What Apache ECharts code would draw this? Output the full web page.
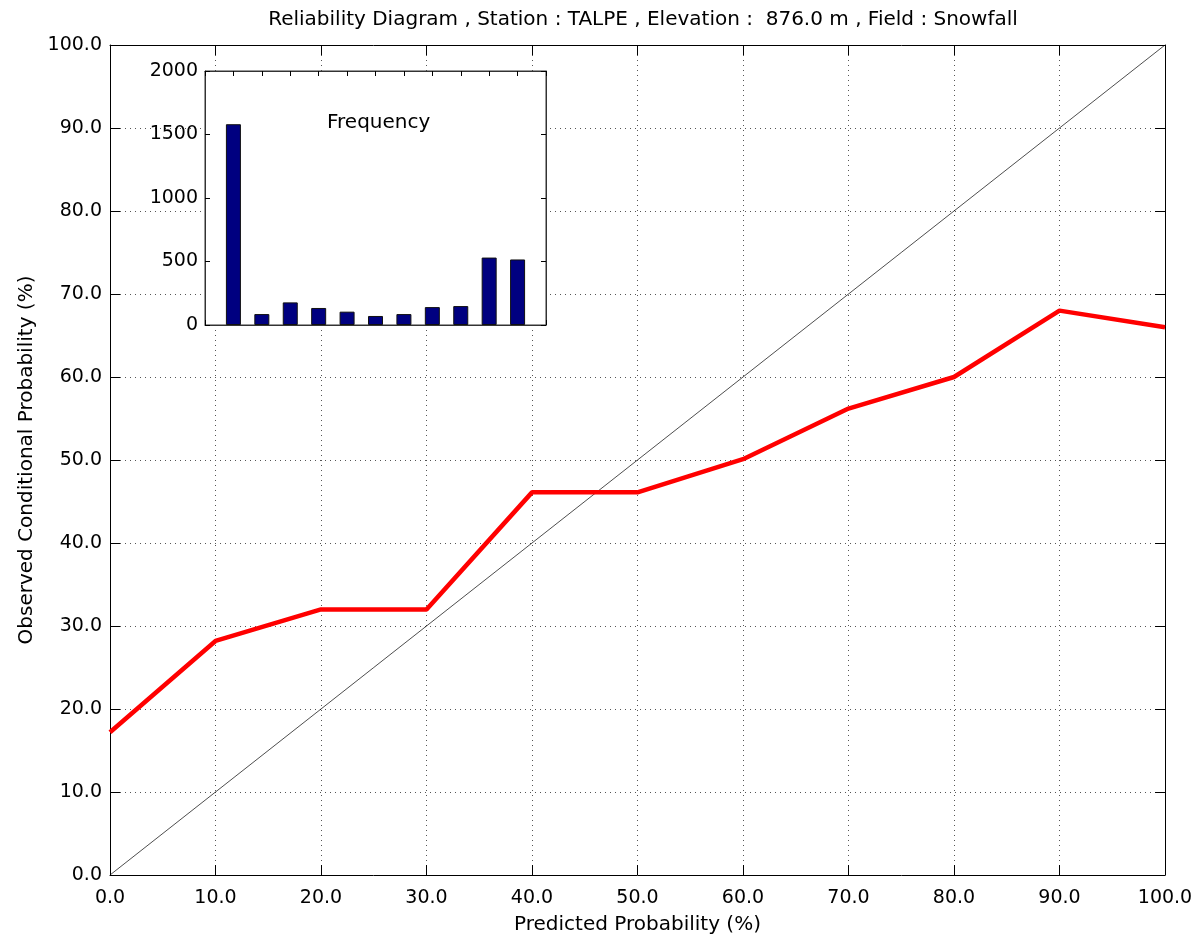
<!DOCTYPE html>
<html><head><meta charset="utf-8">
<script src="https://cdn.jsdelivr.net/npm/echarts@6/dist/echarts.min.js"></script>
<style>html,body{margin:0;padding:0;background:#fff}#c{width:1197px;height:940px}</style>
</head><body><div id="c"></div>
<script>
const titleText = 'Reliability Diagram , Station : TALPE , Elevation :  876.0 m , Field : Snowfall';
const predicted = [0, 10, 20, 30, 40, 50, 60, 70, 80, 90, 100];
const observed = [17.2, 28.2, 32.0, 32.0, 46.1, 46.1, 50.1, 56.2, 60.0, 68.0, 66.0];
const diagonal = [[0, 0], [100, 100]];
const freqBins = [0, 1, 2, 3, 4, 5, 6, 7, 8, 9, 10];
const freqCounts = [1581, 86, 178, 134, 105, 71, 86, 141, 149, 531, 516];

const FONT = 'DejaVu Sans';
const FS = 19;
const FS_NAME = 20;
const txt = {color: '#000', fontFamily: FONT, fontSize: FS};
const nameTxt = {color: '#000', fontFamily: FONT, fontSize: FS_NAME};
const gridLine = {show: true, lineStyle: {color: '#555', type: [1, 4], width: 1}};
const axLine = {show: true, onZero: false, lineStyle: {color: '#000', width: 1}};
const inTick = {show: true, inside: true, length: 10, lineStyle: {color: '#000'}};
const inTickSmall = {show: true, inside: true, length: 5, lineStyle: {color: '#000'}};
const insetLine = {show: true, onZero: false, lineStyle: {color: '#333', width: 1}};

const chart = echarts.init(document.getElementById('c'), null, {renderer: 'canvas'});
chart.setOption({
  backgroundColor: '#fff',
  animation: false,
  title: [
    {text: titleText, left: 638, textAlign: 'center', top: 5, textStyle: {fontFamily: FONT, fontSize: FS_NAME, fontWeight: 'normal', color: '#000'}},
    {text: 'Frequency', left: 322, top: 108, z: 10, textStyle: {fontFamily: FONT, fontSize: FS_NAME, fontWeight: 'normal', color: '#000'}}
  ],
  grid: [
    {left: 110, top: 45, right: 32, bottom: 63, show: false},
    {left: 205, top: 71, width: 341, height: 254, show: true, backgroundColor: '#fff', borderColor: '#333', borderWidth: 1, z: 5}
  ],
  xAxis: [
    {type: 'value', gridIndex: 0, min: 0, max: 100, interval: 10, position: 'bottom',
     name: 'Predicted Probability (%)', nameLocation: 'middle', nameGap: 40, nameTextStyle: nameTxt,
     axisLine: axLine, axisTick: inTick, splitLine: gridLine,
     axisLabel: Object.assign({margin: 14, formatter: v => v.toFixed(1)}, txt)},
    {type: 'value', gridIndex: 0, min: 0, max: 100, interval: 10, position: 'top',
     axisLine: axLine, axisTick: inTick, splitLine: {show: false}, axisLabel: {show: false}},
    {type: 'value', gridIndex: 1, min: -1, max: 11, interval: 1, position: 'bottom', z: 6,
     axisLine: insetLine, axisTick: inTickSmall, splitLine: {show: false}, axisLabel: {show: false}},
    {type: 'value', gridIndex: 1, min: -1, max: 11, interval: 1, position: 'top', z: 6,
     axisLine: insetLine, axisTick: inTickSmall, splitLine: {show: false}, axisLabel: {show: false}}
  ],
  yAxis: [
    {type: 'value', gridIndex: 0, min: 0, max: 100, interval: 10, position: 'left',
     name: 'Observed Conditional Probability (%)', nameLocation: 'middle', nameGap: 73, nameTextStyle: nameTxt,
     axisLine: axLine, axisTick: inTick, splitLine: gridLine,
     axisLabel: Object.assign({margin: 8, formatter: v => v.toFixed(1)}, txt)},
    {type: 'value', gridIndex: 0, min: 0, max: 100, interval: 10, position: 'right',
     axisLine: axLine, axisTick: inTick, splitLine: {show: false}, axisLabel: {show: false}},
    {type: 'value', gridIndex: 1, min: 0, max: 2000, interval: 500, position: 'left', z: 6,
     axisLine: insetLine, axisTick: inTickSmall, splitLine: {show: false},
     axisLabel: Object.assign({margin: 7, formatter: v => String(v)}, txt)},
    {type: 'value', gridIndex: 1, min: 0, max: 2000, interval: 500, position: 'right', z: 6,
     axisLine: insetLine, axisTick: inTickSmall, splitLine: {show: false}, axisLabel: {show: false}}
  ],
  series: [
    {type: 'line', xAxisIndex: 0, yAxisIndex: 0, data: diagonal, symbol: 'none',
     lineStyle: {color: '#000', width: 0.7}, z: 2},
    {type: 'line', xAxisIndex: 0, yAxisIndex: 0, data: predicted.map((p, i) => [p, observed[i]]), symbol: 'none',
     lineStyle: {color: '#ff0000', width: 4.5}, z: 3},
    {type: 'bar', xAxisIndex: 2, yAxisIndex: 2, data: freqBins.map((b, i) => [b, freqCounts[i]]),
     barWidth: 15, itemStyle: {color: '#000080', borderColor: '#111', borderWidth: 1}, z: 7}
  ]
});
</script></body></html>
